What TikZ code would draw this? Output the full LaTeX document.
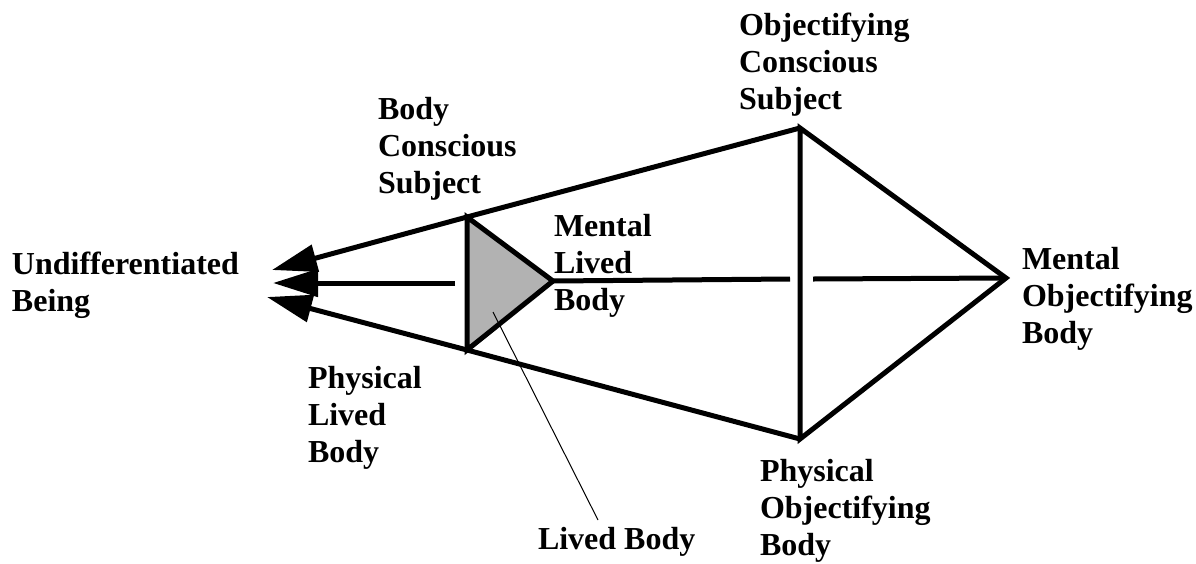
\documentclass[tikz,border=0pt]{standalone}
\usepackage{fontspec}
\setmainfont{Liberation Serif}
\usetikzlibrary{arrows.meta}
\newcommand{\lblfont}{\fontsize{32}{37.2}\selectfont\bfseries}
\newcommand{\topstrut}{\rule{0pt}{22pt}}
\tikzset{
  heavy/.style={line width=5pt, line join=miter, line cap=butt},
  arrowed/.style={heavy, -{Triangle[length=45pt,width=27pt]}},
  lbl/.style={anchor=north west, inner sep=0pt, outer sep=0pt, align=left, font=\lblfont},
  pointer/.style={line width=1pt}
}
\begin{document}
\begin{tikzpicture}[x=1pt, y=-1pt]
\useasboundingbox (0,0) rectangle (1196,563);
% vertices
\coordinate (bcs) at (467,217);
\coordinate (plb) at (467,350);
\coordinate (mlb) at (553,281);
\coordinate (ocs) at (800,128);
\coordinate (pob) at (800,439);
\coordinate (mob) at (1006,278);
% arrow tips and free ends
\coordinate (t1) at (272,270);
\coordinate (t2) at (273,283);
\coordinate (t3) at (267,297);
\coordinate (m0) at (455,283);
\coordinate (gapL) at (790,279);
\coordinate (gapR) at (813,279);
\coordinate (lbIn) at (493,312);
\coordinate (lbOut) at (598,520);
% inner triangle
\filldraw[heavy, fill=black!30] (bcs) -- (mlb) -- (plb) -- cycle;
% outer lines with arrows
\draw[arrowed] (ocs) -- (bcs) -- (t1);
\draw[arrowed] (pob) -- (plb) -- (t3);
\draw[arrowed] (m0) -- (t2);
% right kite
\draw[heavy] (ocs) -- (mob) -- (pob) -- cycle;
\draw[heavy] (mlb) -- (gapL);
\draw[heavy] (gapR) -- (mob);
% pointer
\draw[pointer] (lbIn) -- (lbOut);
% labels
\node[lbl] (ub) at (12,252) {\topstrut Undifferentiated\\Being};
\node[lbl] (bcsl) at (378,97) {\topstrut Body\\Conscious\\Subject};
\node[lbl] (ocsl) at (739,13) {\topstrut Objectifying\\Conscious\\Subject};
\node[lbl] (mlbl) at (554,214) {\topstrut Mental\\Lived\\Body};
\node[lbl] (mobl) at (1022,247) {\topstrut Mental\\Objectifying\\Body};
\node[lbl] (plbl) at (308,366) {\topstrut Physical\\Lived\\Body};
\node[lbl] (pobl) at (760,459) {\topstrut Physical\\Objectifying\\Body};
\node[lbl] (lbl) at (538,527) {\topstrut Lived Body};
\end{tikzpicture}
\end{document}
